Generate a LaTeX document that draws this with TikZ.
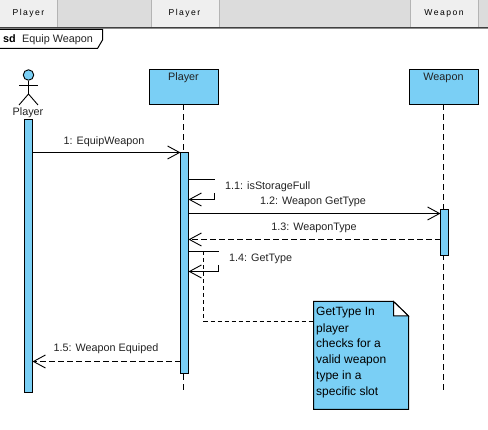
\documentclass[tikz,border=0pt]{standalone}
\usepackage{fontspec}
\setmainfont{Liberation Sans}
\usetikzlibrary{arrows.meta,shapes.geometric}
\definecolor{umlblue}{HTML}{7ACFF5}
\definecolor{tabgrey}{HTML}{DCDCDC}
\definecolor{tabface}{HTML}{EFEFEF}
\definecolor{tabedge}{HTML}{B4B4B4}
\definecolor{labelgrey}{HTML}{222222}
\tikzset{
  lbl/.style={font=\fontsize{10.8}{12}\selectfont,text=labelgrey,inner sep=0pt,anchor=base},
  lblleft/.style={lbl,anchor=base west},
  notetext/.style={font=\fontsize{12}{14}\selectfont,text=black,inner sep=0pt,anchor=base west},
  tabbox/.style={draw=tabedge,fill=tabface,line width=1pt,minimum height=28pt,inner sep=0pt,anchor=north west},
  tabtext/.style={font=\fontsize{8.6}{10}\selectfont,text=black,inner sep=0pt,anchor=base},
  lifebox/.style={draw=black,fill=umlblue,line width=1pt,minimum width=69pt,minimum height=35pt,inner sep=0pt,anchor=north west,outer sep=0pt},
  actbox/.style={draw=black,fill=umlblue,line width=1pt,minimum width=8pt,inner sep=0pt,anchor=north west,outer sep=0pt},
  lifeline/.style={draw=black,line width=1pt,dash pattern=on 6pt off 4pt},
  msg/.style={draw=black,line width=1pt,-{Straight Barb[length=12pt,width=13pt,line width=.9pt]}},
  ret/.style={msg,dash pattern=on 6pt off 3pt},
  selfstub/.style={draw=black,line width=1pt},
  selfmsg/.style={msg},
  notelink/.style={draw=black,line width=1pt,dash pattern=on 4pt off 3pt},
  actorline/.style={draw=black,line width=.9pt},
}
\begin{document}
\begin{tikzpicture}[x=1pt,y=-1pt]
\useasboundingbox (0,0) rectangle (488,430);
% tab strip
\fill[tabgrey] (0,0) rectangle (488,27);
\node[tabbox,minimum width=58pt] (tab1) at (-1,-1) {};
\node[tabbox,minimum width=68pt] (tab2) at (150.5,-1) {};
\node[tabbox,minimum width=68pt] (tab3) at (410,-1) {};
\node[tabtext] (tab1t) at (28.5,16) {P\,l\,a\,y\,e\,r};
\node[tabtext] (tab2t) at (184.5,16) {P\,l\,a\,y\,e\,r};
\node[tabtext] (tab3t) at (444,16) {W\,e\,a\,p\,o\,n};
\fill[black!75] (0,27) rectangle (488,28);
\fill[black!45] (0,28) rectangle (488,29);
% frame tab
\draw[black,line width=1pt,fill=white] (-1,29.5) -- (102.5,29.5) -- (102.5,40) -- (97.5,48.5) -- (-1,48.5);
\node[lblleft,font=\fontsize{10.8}{12}\selectfont\bfseries,text=black] (sd) at (3,43) {sd};
\node[lblleft] (sdname) at (22,43) {Equip Weapon};
% actor
\node[circle,draw=black,fill=umlblue,line width=.9pt,minimum size=10.5pt,inner sep=0pt] (head) at (28.5,75) {};
\coordinate (hip) at (28.5,94);
\coordinate (armL) at (19,85);
\coordinate (armR) at (38,85);
\coordinate (legL) at (19,105);
\coordinate (legR) at (38,105);
\draw[actorline] (head.south) -- (hip);
\draw[actorline] (armL) -- (armR);
\draw[actorline] (legL) -- (hip) -- (legR);
\node[lbl] (actorname) at (28,116) {Player};
% lifelines heads
\node[lifebox] (pbox) at (149.5,69.5) {};
\node[lbl] (ptext) at (183.5,81) {Player};
\node[lifebox] (wbox) at (409.5,69.5) {};
\node[lbl] (wtext) at (443.5,81) {Weapon};
\coordinate (pend) at (183.5,394);
\coordinate (wend) at (443.5,394);
\draw[lifeline] (pbox.south -| pend) -- (pend);
\draw[lifeline] (wbox.south -| wend) -- (wend);
% activations
\node[actbox,minimum height=273pt] (aact) at (24.5,119.5) {};
\node[actbox,minimum height=221pt] (pact) at (180.5,152.5) {};
\node[actbox,minimum height=46pt] (wact) at (440.5,209.5) {};
% messages
\coordinate (m1) at (0,152.5);
\coordinate (m11a) at (214.5,179.5);
\coordinate (m11c) at (214.5,193);
\coordinate (m11b) at (214.5,199.5);
\coordinate (m12) at (0,213.5);
\coordinate (m13) at (0,239.5);
\coordinate (m14a) at (218.5,251.5);
\coordinate (m14c) at (218.5,265);
\coordinate (m14b) at (218.5,271.5);
\coordinate (m15) at (0,361.5);
\draw[msg] (aact.east |- m1) -- (pact.west |- m1);
\draw[selfstub] (pact.east |- m11a) -- (m11a);
\draw[selfmsg] (m11c) -- (m11b) -- (pact.east |- m11b);
\draw[msg] (pact.east |- m12) -- (wact.west |- m12);
\draw[ret] (wact.west |- m13) -- (pact.east |- m13);
\draw[selfstub] (pact.east |- m14a) -- (m14a);
\draw[selfmsg] (m14c) -- (m14b) -- (pact.east |- m14b);
\draw[ret] (pact.west |- m15) -- (aact.east |- m15);
\node[lbl] (l1) at (104,144.5) {1: EquipWeapon};
\node[lblleft] (l11) at (225,190) {1.1: isStorageFull};
\node[lbl] (l12) at (313,205) {1.2: Weapon GetType};
\node[lbl] (l13) at (314,231) {1.3: WeaponType};
\node[lblleft] (l14) at (229,262) {1.4: GetType};
\node[lbl] (l15) at (106,352) {1.5: Weapon Equiped};
% note
\coordinate (nNW) at (313.5,301.5);
\coordinate (nF1) at (393.5,301.5);
\coordinate (nF2) at (408.5,316);
\coordinate (nFc) at (393.5,316);
\coordinate (nSE) at (408.5,409.5);
\coordinate (nSW) at (313.5,409.5);
\draw[black,line width=1pt,fill=umlblue] (nNW) -- (nF1) -- (nF2) -- (nSE) -- (nSW) -- cycle;
\draw[black,line width=1pt,fill=white] (nF1) -- (nF2) -- (nFc) -- cycle;
\foreach \n/\y/\t in {a/316/GetType In,b/333/player,c/348/checks for a,d/364/valid weapon,e/380/type in a,f/396/specific slot}{
  \node[notetext] (note\n) at (316,\y) {\t};
}
\coordinate (lkTop) at (203.5,251.5);
\coordinate (lkCorner) at (203.5,321.5);
\coordinate (lkEnd) at (313.5,321.5);
\draw[notelink] (lkTop) -- (lkCorner) -- (lkEnd);
\end{tikzpicture}
\end{document}
